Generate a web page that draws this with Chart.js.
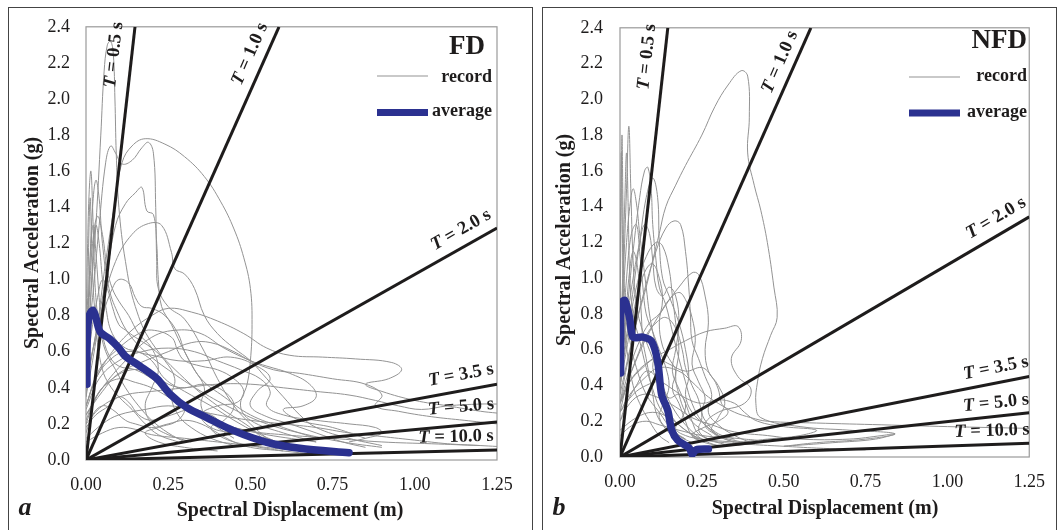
<!DOCTYPE html>
<html><head><meta charset="utf-8">
<script src="https://cdn.jsdelivr.net/npm/chart.js@4.4.0/dist/chart.umd.min.js"></script>
<style>
html,body{margin:0;padding:0;background:#fff;width:1059px;height:530px;overflow:hidden;position:relative}
.frame{position:absolute;border:1px solid #444;box-sizing:border-box}
canvas{position:absolute;top:0}
</style></head><body>
<div class="frame" style="left:8px;top:7px;width:525px;height:560px"></div>
<div class="frame" style="left:542px;top:7px;width:515px;height:560px"></div>
<canvas id="ca" style="left:0;width:535px;height:530px"></canvas>
<canvas id="cb" style="left:535px;width:524px;height:530px"></canvas>
<script>
// ---------- DATA ----------
const xTickLabels = ['0.00','0.25','0.50','0.75','1.00','1.25'];
const yTickLabels = ['0.0','0.2','0.4','0.6','0.8','1.0','1.2','1.4','1.6','1.8','2.0','2.2','2.4'];
const periodNames = ['0.5','1.0','2.0','3.5','5.0','10.0'];
const fdPeriodSd  = [0.149, 0.587, 1.25, 1.25, 1.25, 1.25];
const fdPeriodSa  = [2.4, 2.4, 1.285, 0.42, 0.21, 0.055];
const nfdPeriodSd = [0.146, 0.583, 1.25, 1.25, 1.25, 1.25];
const nfdPeriodSa = [2.4, 2.4, 1.343, 0.45, 0.248, 0.077];

const fdAverage = [[0.003,0.42],[0.003,0.6],[0.005,0.72],[0.01,0.8],[0.021,0.83],[0.03,0.79],[0.043,0.71],[0.073,0.67],[0.10,0.62],[0.12,0.574],[0.164,0.52],[0.216,0.45],[0.255,0.366],[0.307,0.29],[0.367,0.235],[0.447,0.164],[0.55,0.098],[0.65,0.065],[0.80,0.04]];
const nfdAverage = [[0.002,0.47],[0.002,0.7],[0.004,0.86],[0.015,0.875],[0.03,0.77],[0.04,0.67],[0.07,0.67],[0.097,0.645],[0.115,0.535],[0.127,0.35],[0.146,0.26],[0.158,0.15],[0.176,0.094],[0.212,0.05],[0.22,0.015],[0.232,0.04],[0.27,0.045]];

const fdRec01 = [[0,0.5],[0.01,0.8],[0.03,1.3],[0.045,1.8],[0.055,2.15],[0.065,2.3],[0.075,2.32],[0.083,2.25],[0.088,2.0],[0.092,1.7],[0.1,1.4],[0.12,1.1],[0.15,0.85],[0.2,0.65],[0.3,0.45],[0.4,0.3],[0.5,0.18],[0.55,0.1],[0.6,0.06]];
const fdRec02 = [[0,0.6],[0.02,0.9],[0.04,1.3],[0.06,1.65],[0.075,1.74],[0.09,1.7],[0.11,1.64],[0.14,1.66],[0.17,1.73],[0.19,1.76],[0.205,1.7],[0.212,1.4],[0.215,1.1],[0.22,0.95],[0.25,0.85],[0.3,0.78],[0.36,0.6],[0.4,0.45],[0.45,0.3],[0.5,0.2],[0.55,0.12]];
const fdRec03 = [[0,0.45],[0.03,0.7],[0.06,1.1],[0.09,1.45],[0.11,1.65],[0.14,1.74],[0.18,1.78],[0.24,1.75],[0.3,1.68],[0.36,1.57],[0.41,1.43],[0.45,1.28],[0.48,1.12],[0.5,0.95],[0.505,0.75],[0.5,0.55],[0.49,0.42],[0.47,0.3],[0.5,0.22],[0.6,0.15],[0.7,0.1]];
const fdRec04 = [[0,0.4],[0.03,0.7],[0.06,1.0],[0.09,1.3],[0.12,1.42],[0.15,1.48],[0.17,1.51],[0.185,1.38],[0.205,1.36],[0.215,1.2],[0.22,1.0],[0.23,0.85],[0.26,0.75],[0.3,0.6],[0.35,0.45],[0.42,0.35],[0.5,0.25],[0.6,0.18],[0.7,0.12]];
const fdRec05 = [[0,0.35],[0.02,0.55],[0.05,0.85],[0.09,1.1],[0.14,1.25],[0.19,1.31],[0.23,1.3],[0.26,1.15],[0.27,1.06],[0.3,1.03],[0.33,0.95],[0.36,0.8],[0.4,0.7],[0.45,0.62],[0.5,0.55],[0.55,0.45],[0.6,0.35],[0.65,0.25],[0.7,0.18],[0.8,0.12],[0.9,0.08]];
const fdRec06 = [[0,0.3],[0.03,0.45],[0.08,0.6],[0.14,0.72],[0.2,0.8],[0.25,0.84],[0.32,0.82],[0.4,0.77],[0.48,0.7],[0.55,0.62],[0.62,0.58],[0.72,0.57],[0.82,0.56],[0.93,0.54],[0.96,0.5],[0.92,0.45],[0.85,0.42],[0.9,0.38],[1.0,0.33],[1.1,0.3],[1.2,0.27],[1.25,0.26]];
const fdRec07 = [[0,0.25],[0.05,0.4],[0.12,0.55],[0.2,0.68],[0.28,0.72],[0.35,0.7],[0.42,0.62],[0.5,0.55],[0.57,0.5],[0.65,0.48],[0.75,0.45],[0.85,0.42],[0.9,0.36],[0.88,0.3],[0.95,0.27],[1.05,0.24],[1.15,0.22],[1.25,0.2]];
const fdRec08 = [[0,0.55],[0.01,1.0],[0.02,1.4],[0.03,1.55],[0.04,1.45],[0.05,1.2],[0.07,0.95],[0.1,0.8],[0.13,0.7],[0.18,0.6],[0.25,0.5],[0.35,0.38],[0.45,0.28],[0.55,0.2],[0.65,0.15],[0.78,0.1],[0.9,0.07]];
const fdRec09 = [[0,0.35],[0.01,0.7],[0.02,1.1],[0.03,1.3],[0.04,1.2],[0.05,1.0],[0.06,0.85],[0.08,0.7],[0.12,0.62],[0.16,0.6],[0.2,0.55],[0.24,0.45],[0.3,0.38],[0.38,0.3],[0.45,0.22],[0.52,0.15],[0.58,0.1]];
const fdRec10 = [[0,0.3],[0.04,0.5],[0.1,0.62],[0.16,0.7],[0.2,0.72],[0.26,0.68],[0.28,0.6],[0.3,0.55],[0.35,0.52],[0.4,0.5],[0.45,0.45],[0.48,0.38],[0.46,0.32],[0.4,0.3],[0.35,0.25],[0.38,0.18],[0.45,0.15],[0.55,0.12],[0.6,0.08]];
const fdRec11 = [[0,0.2],[0.02,0.3],[0.05,0.4],[0.1,0.45],[0.15,0.43],[0.2,0.4],[0.25,0.35],[0.3,0.3],[0.28,0.22],[0.22,0.18],[0.18,0.15],[0.22,0.1],[0.3,0.07],[0.4,0.05]];
const fdRec12 = [[0,0.15],[0.02,0.25],[0.05,0.3],[0.08,0.28],[0.12,0.22],[0.15,0.2],[0.2,0.18],[0.25,0.2],[0.3,0.22],[0.35,0.2],[0.4,0.15],[0.45,0.1],[0.5,0.07],[0.6,0.05],[0.7,0.03]];
const fdRec13 = [[0,0.7],[0.005,1.2],[0.01,1.5],[0.015,1.6],[0.02,1.4],[0.025,1.1],[0.03,0.9],[0.04,0.75],[0.06,0.6],[0.09,0.5],[0.12,0.4],[0.16,0.3],[0.2,0.22],[0.25,0.15],[0.3,0.1]];
const fdRec14 = [[0,0.5],[0.008,0.9],[0.015,1.2],[0.022,1.3],[0.03,1.15],[0.04,0.9],[0.05,0.7],[0.07,0.58],[0.1,0.52],[0.15,0.5],[0.2,0.45],[0.25,0.38],[0.3,0.3],[0.35,0.25],[0.4,0.18],[0.45,0.12]];
const fdRec15 = [[0,0.28],[0.04,0.45],[0.1,0.55],[0.17,0.6],[0.25,0.62],[0.33,0.6],[0.4,0.55],[0.47,0.5],[0.53,0.45],[0.56,0.38],[0.55,0.3],[0.6,0.25],[0.7,0.22],[0.8,0.2],[0.88,0.18],[0.9,0.15],[0.85,0.12],[0.8,0.1]];
const fdRec16 = [[0,0.12],[0.05,0.2],[0.1,0.25],[0.18,0.28],[0.25,0.3],[0.32,0.28],[0.4,0.25],[0.5,0.22],[0.6,0.2],[0.7,0.18],[0.8,0.15],[0.9,0.13],[1.0,0.11],[1.1,0.09],[1.2,0.08],[1.25,0.075]];
const fdRec17 = [[0,0.1],[0.05,0.15],[0.1,0.18],[0.15,0.17],[0.2,0.14],[0.3,0.12],[0.4,0.1],[0.5,0.08],[0.6,0.06],[0.7,0.05],[0.8,0.04],[0.9,0.035]];
const fdRec18 = [[0,0.6],[0.005,0.9],[0.01,1.35],[0.013,1.45],[0.017,1.2],[0.022,0.95],[0.028,0.8],[0.035,0.65],[0.05,0.5],[0.07,0.42],[0.1,0.35],[0.14,0.28],[0.18,0.2],[0.22,0.14],[0.28,0.1]];
const fdRec19 = [[0,0.4],[0.01,0.6],[0.02,0.75],[0.035,0.9],[0.05,1.0],[0.065,0.95],[0.08,0.85],[0.1,0.75],[0.12,0.72],[0.15,0.68],[0.2,0.62],[0.24,0.55],[0.27,0.45],[0.26,0.35],[0.28,0.25],[0.32,0.18],[0.38,0.12],[0.45,0.08]];
const fdRec20 = [[0,0.3],[0.03,0.45],[0.07,0.55],[0.12,0.6],[0.2,0.58],[0.28,0.55],[0.36,0.55],[0.44,0.57],[0.52,0.52],[0.56,0.45],[0.52,0.38],[0.5,0.3],[0.55,0.24],[0.62,0.2],[0.7,0.15],[0.78,0.1],[0.85,0.07]];
const fdRec21 = [[0,0.2],[0.05,0.3],[0.12,0.36],[0.2,0.38],[0.3,0.4],[0.4,0.42],[0.5,0.42],[0.6,0.4],[0.7,0.38],[0.8,0.36],[0.88,0.33],[0.95,0.3],[1.02,0.28],[1.1,0.3],[1.2,0.31],[1.25,0.31]];
const fdRec22 = [[0,0.22],[0.03,0.35],[0.08,0.45],[0.14,0.5],[0.2,0.48],[0.25,0.42],[0.3,0.4],[0.36,0.42],[0.42,0.38],[0.45,0.3],[0.42,0.22],[0.38,0.18],[0.42,0.12],[0.5,0.08],[0.6,0.05]];
const fdRec23 = [[0,0.18],[0.03,0.25],[0.07,0.3],[0.1,0.35],[0.13,0.32],[0.16,0.25],[0.2,0.22],[0.26,0.25],[0.32,0.28],[0.38,0.25],[0.42,0.2],[0.5,0.16],[0.6,0.14],[0.75,0.12],[0.9,0.1],[1.05,0.09],[1.2,0.08]];
const fdRec24 = [[0,0.5],[0.01,0.9],[0.02,1.2],[0.035,1.35],[0.05,1.25],[0.065,1.05],[0.08,0.95],[0.1,0.88],[0.13,0.8],[0.16,0.7],[0.2,0.62],[0.22,0.5],[0.2,0.4],[0.18,0.3],[0.2,0.2],[0.25,0.14],[0.32,0.1]];
const fdRec25 = [[0,0.4],[0.02,0.6],[0.05,0.8],[0.08,0.95],[0.1,1.0],[0.13,0.98],[0.15,0.9],[0.17,0.85],[0.2,0.84],[0.24,0.8],[0.28,0.7],[0.3,0.6],[0.33,0.5],[0.36,0.4],[0.35,0.3],[0.38,0.22],[0.45,0.18],[0.55,0.14],[0.7,0.1]];
const fdRec26 = [[0,0.25],[0.05,0.38],[0.1,0.48],[0.18,0.55],[0.25,0.6],[0.32,0.65],[0.38,0.65],[0.45,0.6],[0.5,0.55],[0.55,0.52],[0.62,0.48],[0.68,0.42],[0.7,0.35],[0.66,0.3],[0.6,0.28],[0.65,0.22],[0.75,0.18],[0.85,0.12]];
const fdRecords = [fdRec01,fdRec02,fdRec03,fdRec04,fdRec05,fdRec06,fdRec07,fdRec08,fdRec09,fdRec10,fdRec11,fdRec12,fdRec13,fdRec14,fdRec15,fdRec16,fdRec17,fdRec18,fdRec19,fdRec20,fdRec21,fdRec22,fdRec23,fdRec24,fdRec25,fdRec26];

const nfdRec01 = [[0,0.3],[0.02,0.5],[0.05,0.75],[0.08,0.95],[0.1,1.1],[0.12,1.25],[0.14,1.4],[0.17,1.52],[0.2,1.63],[0.25,1.8],[0.29,1.96],[0.33,2.08],[0.37,2.16],[0.39,2.13],[0.395,1.9],[0.39,1.7],[0.41,1.52],[0.43,1.38],[0.45,1.2],[0.47,0.95],[0.48,0.78],[0.46,0.68],[0.435,0.55],[0.42,0.42],[0.415,0.3],[0.43,0.22],[0.55,0.17],[0.7,0.15],[0.84,0.13],[0.75,0.1],[0.6,0.08],[0.5,0.06]];
const nfdRec02 = [[0,0.6],[0.01,1.0],[0.02,1.5],[0.027,1.85],[0.033,1.5],[0.04,1.1],[0.05,0.85],[0.07,0.7],[0.1,0.55],[0.13,0.4],[0.16,0.28],[0.2,0.18],[0.25,0.1],[0.3,0.06]];
const nfdRec03 = [[0,0.7],[0.003,1.3],[0.006,1.8],[0.009,1.4],[0.012,1.0],[0.02,0.8],[0.03,0.65],[0.05,0.5],[0.08,0.35],[0.12,0.25],[0.16,0.15],[0.2,0.1]];
const nfdRec04 = [[0,0.5],[0.02,0.8],[0.04,1.15],[0.06,1.45],[0.075,1.6],[0.085,1.62],[0.095,1.5],[0.1,1.3],[0.11,1.1],[0.12,0.95],[0.14,0.85],[0.16,0.7],[0.18,0.55],[0.2,0.42],[0.22,0.3],[0.25,0.2],[0.3,0.12],[0.35,0.08]];
const nfdRec05 = [[0,0.45],[0.03,0.8],[0.06,1.2],[0.08,1.45],[0.1,1.56],[0.115,1.45],[0.12,1.2],[0.13,1.0],[0.15,0.9],[0.18,0.75],[0.2,0.6],[0.21,0.45],[0.2,0.35],[0.22,0.25],[0.26,0.18],[0.3,0.12]];
const nfdRec06 = [[0,0.35],[0.03,0.6],[0.07,0.9],[0.11,1.15],[0.14,1.28],[0.165,1.32],[0.185,1.3],[0.2,1.15],[0.21,0.95],[0.215,0.8],[0.22,0.65],[0.24,0.55],[0.26,0.45],[0.28,0.35],[0.27,0.25],[0.3,0.18],[0.35,0.12],[0.4,0.08]];
const nfdRec07 = [[0,0.3],[0.04,0.5],[0.09,0.7],[0.14,0.85],[0.18,0.95],[0.22,1.03],[0.24,1.02],[0.26,0.9],[0.27,0.75],[0.26,0.6],[0.27,0.48],[0.3,0.4],[0.32,0.3],[0.3,0.22],[0.28,0.15],[0.32,0.1],[0.4,0.07]];
const nfdRec08 = [[0,0.4],[0.02,0.65],[0.05,0.95],[0.08,1.12],[0.11,1.2],[0.13,1.18],[0.15,1.05],[0.16,0.9],[0.17,0.75],[0.18,0.6],[0.17,0.45],[0.18,0.35],[0.2,0.25],[0.23,0.18],[0.28,0.12]];
const nfdRec09 = [[0,0.3],[0.04,0.45],[0.1,0.55],[0.15,0.6],[0.2,0.65],[0.26,0.7],[0.32,0.72],[0.36,0.73],[0.37,0.65],[0.34,0.55],[0.36,0.45],[0.4,0.38],[0.38,0.3],[0.3,0.25],[0.26,0.18],[0.3,0.12],[0.38,0.08]];
const nfdRec10 = [[0,0.25],[0.03,0.35],[0.08,0.45],[0.12,0.5],[0.18,0.48],[0.22,0.42],[0.26,0.35],[0.3,0.3],[0.35,0.25],[0.4,0.22],[0.45,0.2],[0.6,0.19],[0.8,0.18],[1.0,0.17],[1.25,0.16]];
const nfdRec11 = [[0,0.2],[0.03,0.3],[0.07,0.35],[0.12,0.33],[0.17,0.28],[0.22,0.22],[0.28,0.18],[0.35,0.14],[0.45,0.12],[0.55,0.1],[0.7,0.1],[0.8,0.12],[0.84,0.13],[0.78,0.1],[0.65,0.08],[0.5,0.06]];
const nfdRec12 = [[0,0.15],[0.05,0.22],[0.1,0.25],[0.15,0.22],[0.2,0.15],[0.25,0.1],[0.32,0.08],[0.4,0.07],[0.5,0.06],[0.6,0.05],[0.75,0.04]];
const nfdRec13 = [[0,0.8],[0.002,1.4],[0.004,1.7],[0.007,1.3],[0.01,0.9],[0.015,0.7],[0.025,0.55],[0.04,0.4],[0.06,0.3],[0.09,0.2],[0.12,0.12],[0.15,0.08]];
const nfdRec14 = [[0,0.5],[0.008,1.0],[0.015,1.45],[0.02,1.7],[0.025,1.4],[0.03,1.0],[0.04,0.8],[0.06,0.65],[0.08,0.5],[0.1,0.38],[0.12,0.28],[0.15,0.2],[0.18,0.12],[0.22,0.08]];
const nfdRec15 = [[0,0.4],[0.01,0.7],[0.02,1.0],[0.035,1.25],[0.05,1.3],[0.06,1.15],[0.07,0.95],[0.08,0.8],[0.1,0.7],[0.12,0.6],[0.14,0.5],[0.15,0.4],[0.14,0.3],[0.16,0.22],[0.2,0.15],[0.24,0.1]];
const nfdRec16 = [[0,0.25],[0.02,0.4],[0.05,0.55],[0.08,0.68],[0.11,0.75],[0.14,0.78],[0.17,0.72],[0.19,0.6],[0.2,0.5],[0.22,0.4],[0.24,0.32],[0.25,0.22],[0.24,0.15],[0.27,0.1],[0.32,0.07]];
const nfdRec17 = [[0,0.3],[0.03,0.42],[0.07,0.5],[0.11,0.55],[0.15,0.52],[0.2,0.48],[0.25,0.5],[0.28,0.45],[0.3,0.38],[0.31,0.3],[0.33,0.25],[0.3,0.2],[0.25,0.16],[0.22,0.12],[0.26,0.08],[0.32,0.06]];
const nfdRec18 = [[0,0.12],[0.04,0.18],[0.08,0.2],[0.12,0.18],[0.18,0.15],[0.25,0.12],[0.32,0.11],[0.38,0.1],[0.42,0.09],[0.38,0.07],[0.3,0.06],[0.25,0.05]];
const nfdRec19 = [[0,0.5],[0.01,0.9],[0.02,1.2],[0.03,1.4],[0.04,1.5],[0.05,1.42],[0.06,1.25],[0.07,1.1],[0.08,0.95],[0.09,0.8],[0.1,0.7],[0.11,0.6],[0.1,0.5],[0.12,0.4],[0.13,0.3],[0.12,0.22],[0.15,0.15],[0.2,0.1]];
const nfdRec20 = [[0,0.4],[0.02,0.6],[0.04,0.8],[0.06,0.95],[0.08,1.05],[0.1,1.08],[0.12,1.0],[0.13,0.88],[0.12,0.75],[0.13,0.62],[0.15,0.55],[0.17,0.48],[0.16,0.38],[0.18,0.3],[0.2,0.2],[0.22,0.12],[0.26,0.08]];
const nfdRec21 = [[0,0.3],[0.03,0.5],[0.06,0.65],[0.09,0.75],[0.12,0.8],[0.15,0.88],[0.18,0.92],[0.2,0.88],[0.22,0.78],[0.23,0.65],[0.22,0.52],[0.24,0.42],[0.26,0.33],[0.25,0.25],[0.27,0.18],[0.3,0.13],[0.35,0.1]];
const nfdRec22 = [[0,0.2],[0.02,0.3],[0.05,0.4],[0.08,0.48],[0.11,0.45],[0.13,0.38],[0.15,0.33],[0.18,0.35],[0.2,0.3],[0.19,0.22],[0.17,0.16],[0.2,0.12],[0.25,0.1],[0.3,0.09],[0.4,0.08]];
const nfdRec23 = [[0,0.25],[0.04,0.35],[0.08,0.4],[0.12,0.42],[0.16,0.38],[0.2,0.33],[0.25,0.3],[0.3,0.32],[0.35,0.3],[0.38,0.25],[0.42,0.2],[0.5,0.17],[0.6,0.15],[0.55,0.12],[0.45,0.1],[0.35,0.08]];
const nfdRec24 = [[0,0.45],[0.02,0.75],[0.04,1.0],[0.06,1.2],[0.075,1.3],[0.09,1.25],[0.1,1.1],[0.11,0.95],[0.13,0.9],[0.15,0.95],[0.17,0.9],[0.18,0.75],[0.17,0.6],[0.16,0.48],[0.18,0.38],[0.2,0.3],[0.22,0.2],[0.24,0.13],[0.3,0.08]];
const nfdRec25 = [[0,0.35],[0.01,0.6],[0.02,0.85],[0.03,1.05],[0.04,1.15],[0.05,1.1],[0.06,0.95],[0.065,0.8],[0.07,0.65],[0.08,0.55],[0.09,0.45],[0.1,0.35],[0.11,0.25],[0.13,0.18],[0.16,0.12],[0.2,0.08]];
const nfdRecords = [nfdRec01,nfdRec02,nfdRec03,nfdRec04,nfdRec05,nfdRec06,nfdRec07,nfdRec08,nfdRec09,nfdRec10,nfdRec11,nfdRec12,nfdRec13,nfdRec14,nfdRec15,nfdRec16,nfdRec17,nfdRec18,nfdRec19,nfdRec20,nfdRec21,nfdRec22,nfdRec23,nfdRec24,nfdRec25];

// ---------- STYLE / LAYOUT ----------
const SERIF = '"Liberation Serif","Times New Roman",serif';
const INK = '#1e1c1c';
const REC_COLOR = '#939393';
const AVG_COLOR = '#2b3190';
const T_FONT = 18.5;

const panelA = {
  canvas:'ca', w:535, h:530,
  area:{left:86, right:497, top:21, bottom:460},
  yPad:16, xPad:14,
  name:'FD', nameX:485, nameY:54,
  legRecY:76, legAvgY:112.5, legX0:377, legX1:428, legTextX:492, legRecTextY:82, legAvgTextY:116,
  xTitleX:290, xTitleY:516, yTitleX:38, yTitleY:243,
  letter:'a', letterX:25, letterY:515,
  tLabels:[[114,55,83.6],[250,54,66.3],[461,230,29.8],[461,375,10.6],[461,407,5.3],[456,437,1.4]],
  sd:fdPeriodSd, sa:fdPeriodSa, records:fdRecords, average:fdAverage
};
const panelB = {
  canvas:'cb', w:524, h:530,
  area:{left:85, right:497, top:21, bottom:457},
  yPad:17, xPad:14,
  name:'NFD', nameX:492, nameY:48,
  legRecY:77, legAvgY:113, legX0:374, legX1:425, legTextX:492, legRecTextY:81, legAvgTextY:117,
  xTitleX:290, xTitleY:514, yTitleX:35, yTitleY:240,
  letter:'b', letterX:24, letterY:515,
  tLabels:[[112,57,83.7],[245,62,66.2],[461,218,30.6],[461,368,11.3],[461,403,6.2],[457,431,1.9]],
  sd:nfdPeriodSd, sa:nfdPeriodSa, records:nfdRecords, average:nfdAverage
};

const decorPlugin = {
  id:'decor',
  beforeDatasetsDraw(chart, args, p){
    const ctx = chart.ctx, a = chart.chartArea;
    ctx.save();
    ctx.strokeStyle = '#9a9a9a'; ctx.lineWidth = 1.2;
    ctx.strokeRect(a.left, a.top, a.right-a.left, a.bottom-a.top);
    ctx.restore();
  },
  afterDraw(chart, args, p){
    const ctx = chart.ctx;
    ctx.save();
    ctx.fillStyle = INK;
    ctx.font = 'bold 27px '+SERIF; ctx.textAlign='right'; ctx.textBaseline='alphabetic';
    ctx.fillText(p.name, p.nameX, p.nameY);
    ctx.strokeStyle = REC_COLOR; ctx.lineWidth = 1.2;
    ctx.beginPath(); ctx.moveTo(p.legX0, p.legRecY); ctx.lineTo(p.legX1, p.legRecY); ctx.stroke();
    ctx.strokeStyle = AVG_COLOR; ctx.lineWidth = 7;
    ctx.beginPath(); ctx.moveTo(p.legX0, p.legAvgY); ctx.lineTo(p.legX1, p.legAvgY); ctx.stroke();
    ctx.font = 'bold 18px '+SERIF; ctx.textAlign='right';
    ctx.fillText('record', p.legTextX, p.legRecTextY);
    ctx.fillText('average', p.legTextX, p.legAvgTextY);
    ctx.font = 'bold 20px '+SERIF; ctx.textAlign='center';
    ctx.fillText('Spectral Displacement (m)', p.xTitleX, p.xTitleY);
    ctx.save();
    ctx.translate(p.yTitleX, p.yTitleY); ctx.rotate(-Math.PI/2);
    ctx.fillText('Spectral Acceleration (g)', 0, 0);
    ctx.restore();
    ctx.font = 'bold italic 26px '+SERIF; ctx.textAlign='center';
    ctx.fillText(p.letter, p.letterX, p.letterY);
    p.tLabels.forEach((t, i) => {
      const s1 = 'T', s2 = ' = ' + periodNames[i] + ' s';
      ctx.save();
      ctx.translate(t[0], t[1]); ctx.rotate(-t[2]*Math.PI/180);
      ctx.textBaseline = 'middle'; ctx.textAlign='left';
      ctx.font = 'bold italic '+T_FONT+'px '+SERIF; const w1 = ctx.measureText(s1).width;
      ctx.font = 'bold '+T_FONT+'px '+SERIF; const w2 = ctx.measureText(s2).width;
      const x0 = -(w1+w2)/2;
      ctx.font = 'bold italic '+T_FONT+'px '+SERIF; ctx.fillText(s1, x0, 0);
      ctx.font = 'bold '+T_FONT+'px '+SERIF; ctx.fillText(s2, x0+w1, 0);
      ctx.restore();
    });
    ctx.restore();
  }
};

function build(P){
  const cv = document.getElementById(P.canvas);
  cv.width = P.w; cv.height = P.h;
  const datasets = [];
  datasets.push({data:P.average, showLine:true, borderColor:AVG_COLOR, borderWidth:7.5, pointRadius:0, tension:0.3, order:0, borderCapStyle:'round', borderJoinStyle:'round'});
  P.sd.forEach((sd, i) => {
    datasets.push({data:[[0,0],[sd, P.sa[i]]], showLine:true, borderColor:INK, borderWidth:3, pointRadius:0, tension:0, order:1});
  });
  P.records.forEach(r => {
    datasets.push({data:r, showLine:true, borderColor:REC_COLOR, borderWidth:1, pointRadius:0, tension:0.4, order:2});
  });
  new Chart(cv, {
    type:'scatter',
    data:{datasets},
    plugins:[decorPlugin],
    options:{
      responsive:false, animation:false, devicePixelRatio:1,
      layout:{padding:{left:0, top:P.area.top, right:P.w-P.area.right, bottom:0}},
      plugins:{legend:{display:false}, tooltip:{enabled:false}, decor:P},
      scales:{
        x:{type:'linear', min:0, max:1.25,
           afterFit(s){ s.height = P.h - P.area.bottom; },
           grid:{display:false, drawTicks:false}, border:{display:false},
           ticks:{stepSize:0.25, padding:P.xPad, color:INK, font:{family:SERIF, size:18}, maxRotation:0,
                  callback:(v,i)=>xTickLabels[i]}},
        y:{type:'linear', min:0, max:2.4,
           afterFit(s){ s.width = P.area.left; },
           grid:{display:false, drawTicks:false}, border:{display:false},
           ticks:{stepSize:0.2, padding:P.yPad, color:INK, font:{family:SERIF, size:18},
                  callback:(v,i)=>yTickLabels[i]}}
      }
    }
  });
}
build(panelA);
build(panelB);
</script>
</body></html>
